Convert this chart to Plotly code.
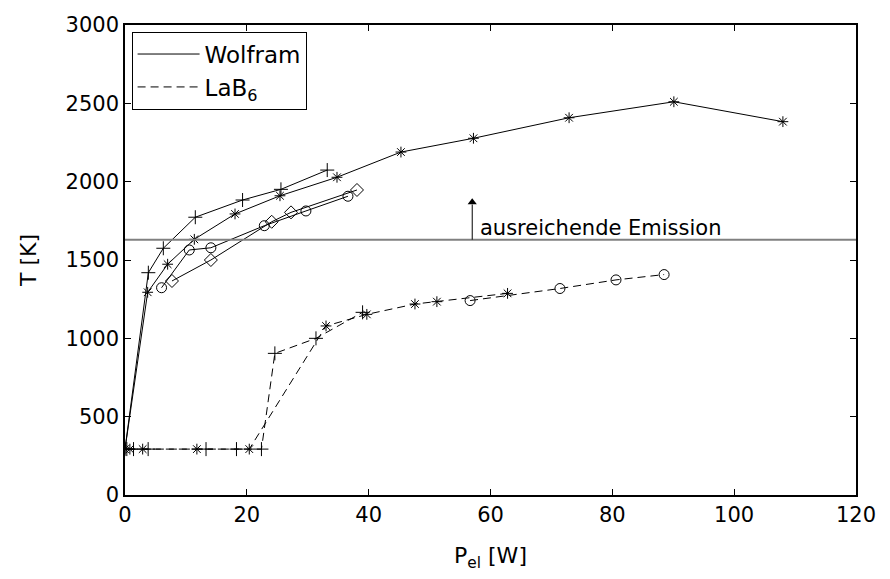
import plotly.graph_objects as go

# Wolfram runs (solid lines)
w_plus_x = [0, 3.83, 6.29, 11.54, 19.3, 25.6, 33.2]
w_plus_T = [293, 1419, 1575, 1773, 1883, 1951, 2074]

w_star_x = [0, 3.72, 7.0, 11.38, 18.06, 25.44, 34.8, 45.3, 57.2, 72.9, 90.1, 108.0]
w_star_T = [293, 1294, 1473, 1632, 1794, 1910, 2028, 2189, 2277, 2408, 2510, 2383]

w_circ_x = [6.0, 10.55, 14.1, 22.87, 29.7, 36.6]
w_circ_T = [1323, 1564, 1578, 1719, 1813, 1907]

w_diam_x = [7.71, 14.1, 24.08, 27.25, 38.08]
w_diam_T = [1366, 1500, 1744, 1804, 1947]

# LaB6 runs (dashed lines)
l_plus_x = [0.3, 1.4, 3.8, 13.3, 18.3, 22.4, 24.6, 31.35, 39.0]
l_plus_T = [293, 293, 293, 293, 293, 293, 904, 1000, 1166]

l_star_x = [0.8, 2.9, 11.8, 20.4, 33.0, 39.7, 47.6, 51.2, 62.8]
l_star_T = [293, 293, 293, 293, 1079, 1153, 1219, 1234, 1287]

l_circ_x = [56.65, 71.4, 80.6, 88.5]
l_circ_T = [1241, 1318, 1373, 1407]

T_min = 1630  # ausreichende Emission
arrow_x = 57
arrow_top = 1894
x_ticks = [0, 20, 40, 60, 80, 100, 120]
y_ticks = [0, 500, 1000, 1500, 2000, 2500, 3000]

FONT = "DejaVu Sans"

fig = go.Figure()

runs = [
    (w_plus_x, w_plus_T, "cross-thin-open", "solid", 10),
    (w_star_x, w_star_T, "asterisk-open", "solid", 9),
    (w_circ_x, w_circ_T, "circle-open", "solid", 10),
    (w_diam_x, w_diam_T, "diamond-open", "solid", 10),
    (l_plus_x, l_plus_T, "cross-thin-open", "8px,5px", 10),
    (l_star_x, l_star_T, "asterisk-open", "8px,5px", 9),
    (l_circ_x, l_circ_T, "circle-open", "8px,5px", 10),
]
for x, y, sym, dash, size in runs:
    fig.add_scatter(x=x, y=y, mode="lines+markers", showlegend=False,
                    line=dict(color="black", width=1, dash=dash),
                    marker=dict(symbol=sym, size=size, color="black",
                                line=dict(color="black", width=1)))

# legend entries only
fig.add_scatter(x=[None], y=[None], mode="lines", name="Wolfram",
                line=dict(color="black", width=1))
fig.add_scatter(x=[None], y=[None], mode="lines", name="LaB<sub>6</sub>",
                line=dict(color="black", width=1, dash="8px,5px"))

fig.add_shape(type="line", x0=0, x1=120, y0=T_min, y1=T_min,
              line=dict(color="#808080", width=2))

# arrow: shaft + head
fig.add_shape(type="line", x0=arrow_x, x1=arrow_x, y0=T_min, y1=arrow_top - 40,
              line=dict(color="black", width=1))
fig.add_scatter(x=[arrow_x], y=[arrow_top - 25], mode="markers", showlegend=False,
                hoverinfo="skip",
                marker=dict(symbol="triangle-up", size=8, color="black"))

fig.add_annotation(x=58, y=T_min, text="ausreichende Emission", showarrow=False,
                   xanchor="left", yanchor="bottom", yshift=-2,
                   font=dict(family=FONT, size=21, color="black"))

axis_common = dict(showline=True, linecolor="black", linewidth=1.5, mirror="allticks",
                   ticks="inside", ticklen=6, tickcolor="black", showgrid=False,
                   zeroline=False, automargin=False,
                   tickfont=dict(family=FONT, size=21, color="black"))

fig.update_xaxes(range=[0, 120], tickvals=x_ticks,
                 title=dict(text="P<sub>el</sub> [W]", font=dict(family=FONT, size=22, color="black"),
                            standoff=22),
                 **axis_common)
fig.update_yaxes(range=[0, 3000], tickvals=y_ticks,
                 title=dict(text="T [K]", font=dict(family=FONT, size=22, color="black"),
                            standoff=23),
                 **axis_common)

# page body adds 8px, so margins are shifted to land the axes where the reference has them
fig.update_layout(
    width=890, height=579,
    margin=dict(l=117, r=42, t=17, b=92),
    plot_bgcolor="white", paper_bgcolor="white",
    legend=dict(x=0.009, y=0.986, xanchor="left", yanchor="top",
                bgcolor="white", bordercolor="black", borderwidth=1,
                font=dict(family=FONT, size=23, color="black"),
                itemwidth=62, tracegroupgap=0),
)

fig.write_html("out.html")
